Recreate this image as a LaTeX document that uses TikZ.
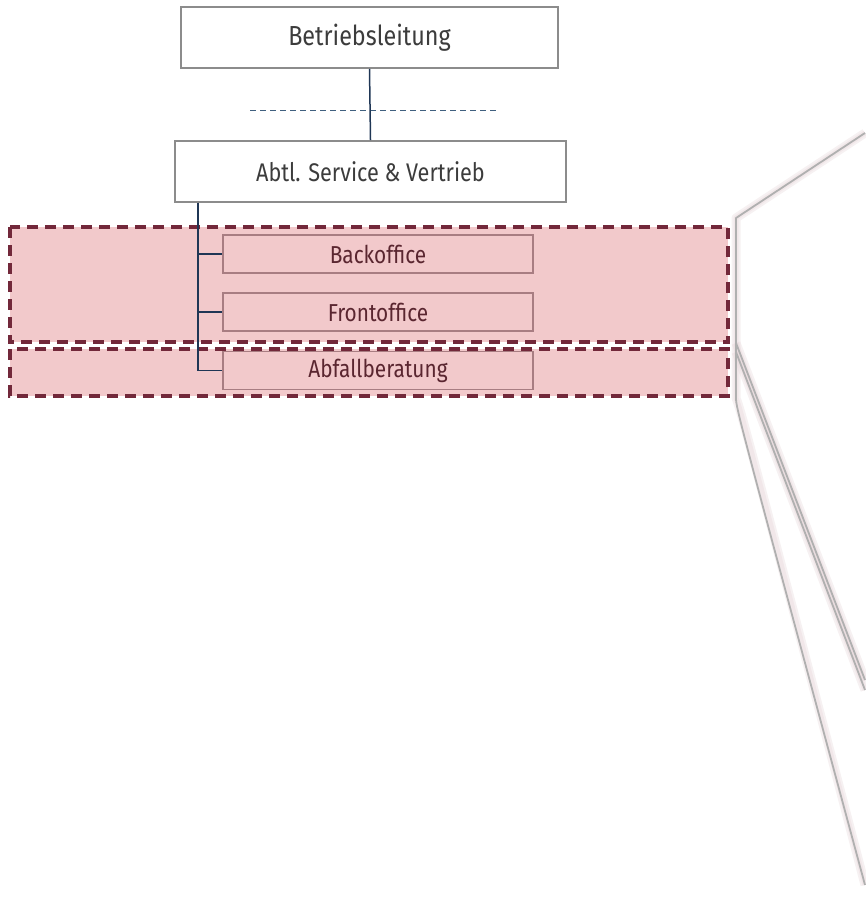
\documentclass[tikz,border=0pt]{standalone}
\usepackage{fontspec}
\setmainfont{Fira Sans}[FakeStretch=0.85]
\newfontfamily\labelfont{Fira Sans}[FakeStretch=0.85]
\usetikzlibrary{calc}

\definecolor{boxgray}{HTML}{8C8C8C}
\definecolor{txtgray}{HTML}{3C3C3C}
\definecolor{navy}{HTML}{1F3655}
\definecolor{dashblue}{HTML}{40607F}
\definecolor{rosefill}{HTML}{F2C9CB}
\definecolor{wine}{HTML}{72283A}
\definecolor{subedge}{HTML}{A87D82}
\definecolor{subtxt}{HTML}{5A2630}
\definecolor{frame}{HTML}{B0B0B0}
\definecolor{frameshade}{HTML}{E6D6D9}

\tikzset{
  topbox/.style={draw=boxgray, line width=1.8pt, fill=white, text=txtgray,
    minimum height=61pt, inner sep=0pt},
  subbox/.style={draw=subedge, line width=1.3pt, fill=rosefill, text=subtxt,
    minimum width=310pt, minimum height=38pt, inner sep=0pt,
    font=\labelfont\fontsize{24.5}{26}\selectfont},
  region/.style={draw=wine, fill=rosefill, line width=3.2pt,
    dash pattern=on 11pt off 7pt},
  tree/.style={draw=navy, line width=1.5pt},
  level/.style={draw=dashblue, line width=1pt, dash pattern=on 6pt off 4pt},
  outline/.style={draw=frame, line width=1.8pt, line join=round},
  shade/.style={draw=frameshade, line join=round, opacity=0.35},
}

% the three strokes of the zoom frame
\newcommand\framepaths[1]{%
  \draw[#1] (fTop) -- (fCorner) -- (fBend)
    .. controls (736,408) and (738,415) .. (fLow);
  \draw[#1] (fSplit) -- (fEndA);
  \draw[#1] (fSplitB) -- (fEndB);
}

\begin{document}
\begin{tikzpicture}[x=1pt, y=-1pt]
  \useasboundingbox (0,0) rectangle (865,912);

  % shaded bands behind the subunits
  \draw[region] (10,227) rectangle (728,342);
  \draw[region] (10,349) rectangle (728,396);

  % management boxes
  \node[topbox, minimum width=377pt,
        font=\labelfont\fontsize{27.5}{29}\selectfont] (bl) at (369.5,37.5) {Betriebsleitung};
  \node[topbox, minimum width=391pt,
        font=\labelfont\fontsize{25.5}{27}\selectfont] (abt) at (370.5,171.5) {Abtl. Service \& Vertrieb};

  % level separator
  \coordinate (lvA) at (250,111);
  \coordinate (lvB) at (497,111);
  \draw[level] (lvA) -- (lvB);

  \draw[tree] (bl.south) -- (abt.north);

  % subunits
  \node[subbox] (back)  at (378,254)   {Backoffice};
  \node[subbox] (front) at (378,312)   {Frontoffice};
  \node[subbox] (abf)   at (378,370.5) {Abfallberatung};

  \coordinate (trunk) at ($(abt.south west)+(24,0)$);
  \draw[tree] (trunk) |- (abf.west);
  \draw[tree] (trunk) |- (back.west);
  \draw[tree] (trunk) |- (front.west);

  % zoom frame on the right
  \coordinate (fTop) at (865,133);
  \coordinate (fCorner) at (736,218);
  \coordinate (fSplit) at (736,343);
  \coordinate (fBend) at (736,398);
  \coordinate (fLow) at (865,885);
  \coordinate (fSplitB) at (736,352);
  \coordinate (fEndA) at (865,680);
  \coordinate (fEndB) at (865,690);

  \begin{scope}[shift={(5,3)}]
    \framepaths{shade, line width=9pt}
    \framepaths{shade, line width=5pt}
  \end{scope}
  \framepaths{outline}
\end{tikzpicture}
\end{document}
